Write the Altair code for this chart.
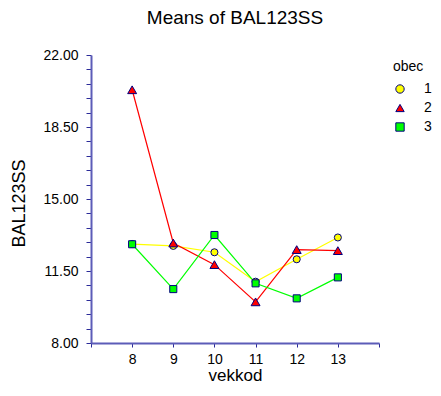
import altair as alt
import pandas as pd

vekkod = [8, 9, 10, 11, 12, 13]
obec_1 = [12.81, 12.72, 12.41, 10.98, 12.07, 13.13]
obec_2 = [20.31, 12.86, 11.81, 10.00, 12.54, 12.49]
obec_3 = [12.80, 10.62, 13.25, 10.90, 10.17, 11.19]

groups = ["1", "2", "3"]
group_colors = ["#ffff00", "#ff0000", "#00ff00"]
group_shapes = ["circle", "triangle-up", "square"]

y_tick_values = [8.0, 8.7, 9.4, 10.1, 10.8, 11.5, 12.2, 12.9, 13.6, 14.3, 15.0,
                 15.7, 16.4, 17.1, 17.8, 18.5, 19.2, 19.9, 20.6, 21.3, 22.0]
x_tick_values = [7, 8, 9, 10, 11, 12, 13, 14]

rows = []
for g, vals in zip(groups, [obec_1, obec_2, obec_3]):
    for x, v in zip(vekkod, vals):
        rows.append({"vekkod": x, "BAL123SS": v, "obec": g})
df = pd.DataFrame(rows)

FONT = "Liberation Sans"
AXIS_LINE = "#5c5cb8"
TICK = "#2b2b99"

x_enc = alt.X(
    "vekkod:Q",
    scale=alt.Scale(domain=[7, 14], nice=False, zero=False),
    axis=alt.Axis(
        title="vekkod",
        values=x_tick_values,
        labelExpr="datum.value >= 8 && datum.value <= 13 ? datum.label : ''",
        grid=False,
        domainColor=AXIS_LINE,
        domainWidth=2,
        tickColor=TICK,
        tickSize=4,
        labelPadding=5,
        labelFontSize=14,
        labelFont=FONT,
        labelColor="black",
        titleFont=FONT,
        titleFontSize=17,
        titleFontWeight="normal",
        titleColor="black",
        titlePadding=1,
    ),
)
y_enc = alt.Y(
    "BAL123SS:Q",
    scale=alt.Scale(domain=[8, 22], nice=False, zero=False),
    axis=alt.Axis(
        title="BAL123SS",
        values=y_tick_values,
        labelExpr="abs((datum.value - 8) / 3.5 - round((datum.value - 8) / 3.5)) < 0.01 ? format(datum.value, '.2f') : ''",
        grid=False,
        domainColor=AXIS_LINE,
        domainWidth=2,
        tickColor=TICK,
        tickSize=5,
        labelPadding=8,
        labelFontSize=14,
        labelFont=FONT,
        labelColor="black",
        titleFont=FONT,
        titleFontSize=18,
        titleFontWeight="normal",
        titleColor="black",
        titleX=-72,
        titleY=148,
        titleBaseline="middle",
    ),
)

color_enc = alt.Color("obec:N", scale=alt.Scale(domain=groups, range=group_colors),
                      legend=alt.Legend(title="obec"))
shape_enc = alt.Shape("obec:N", scale=alt.Scale(domain=groups, range=group_shapes),
                      legend=alt.Legend(title="obec"))

line_layers = []
for g, c in zip(groups, group_colors):
    line_layers.append(
        alt.Chart(df).transform_filter(f"datum.obec == '{g}'")
        .mark_line(strokeWidth=1.2, color=c)
        .encode(x=x_enc, y=y_enc)
    )

points_a = alt.Chart(df).transform_filter(
    "datum.obec != '2'"
).mark_point(filled=True, stroke="#000080", strokeWidth=1, opacity=1, size=50).encode(
    x=x_enc, y=y_enc, color=color_enc, shape=shape_enc,
)
points_b = alt.Chart(df).transform_filter(
    "datum.obec == '2'"
).mark_point(filled=True, stroke="#000080", strokeWidth=1, opacity=1, size=80).encode(
    x=x_enc, y=y_enc, color=color_enc, shape=shape_enc,
)

chart = alt.layer(*line_layers, points_a, points_b).properties(
    width=288,
    height=288,
    title=alt.TitleParams(
        text="Means of BAL123SS",
        font=FONT,
        fontSize=19,
        fontWeight="normal",
        color="black",
        anchor="middle",
        frame="group",
        offset=20,
    ),
    autosize=alt.AutoSizeParams(type="none"),
    padding={"left": 83, "top": 47, "right": 54, "bottom": 40},
).configure_view(
    stroke=None
).configure_legend(
    orient="none",
    legendX=302,
    legendY=5,
    titleFont=FONT,
    titleFontSize=14,
    titleFontWeight="normal",
    titleColor="black",
    labelFont=FONT,
    labelFontSize=14,
    labelColor="black",
    labelOffset=17,
    symbolSize=70,
    symbolStrokeColor="#000080",
    symbolStrokeWidth=1,
    rowPadding=5,
    titlePadding=8,
)

chart.save("out.html", embed_options={"renderer": "svg", "actions": False})
